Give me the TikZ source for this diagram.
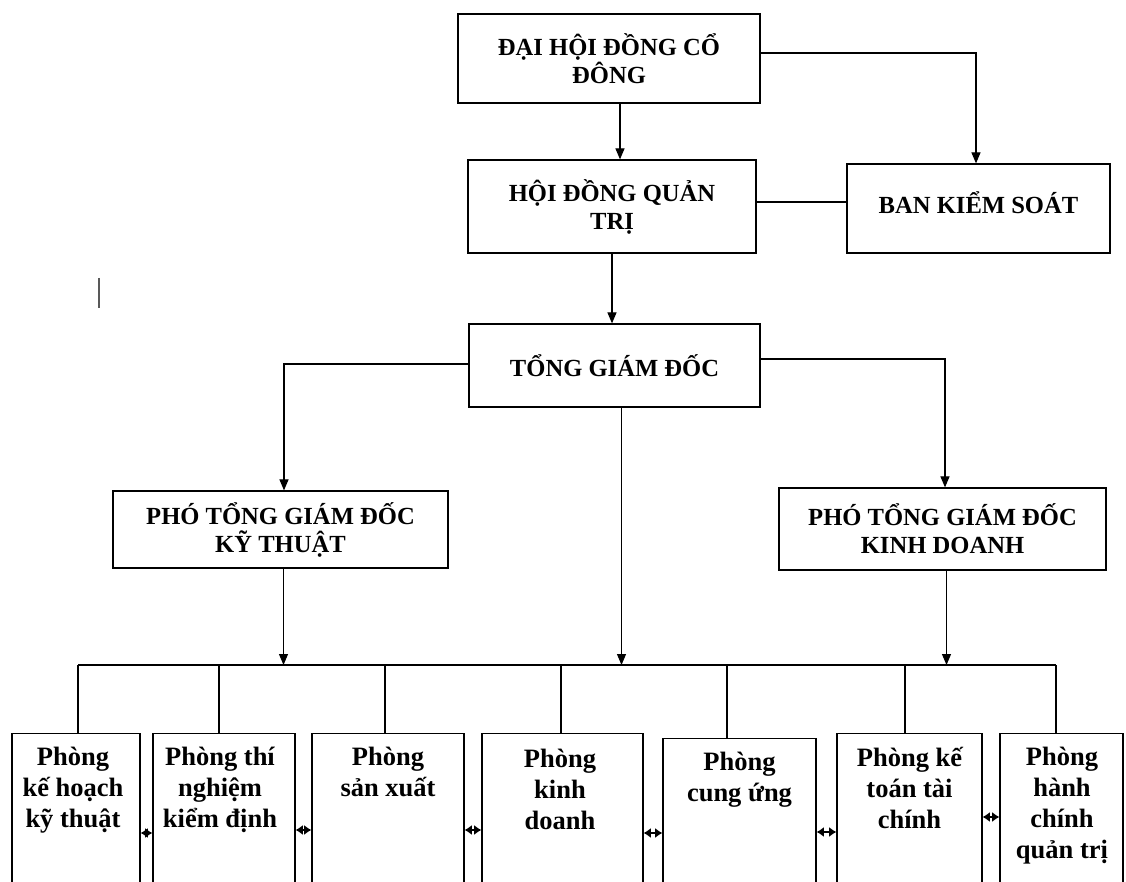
\documentclass[tikz,border=0pt]{standalone}
\usepackage{fontspec}
\setmainfont{Liberation Serif}
\usetikzlibrary{arrows.meta,calc}
\tikzset{
  capbox/.style={draw, line width=0.6pt, inner sep=0pt, align=center,
    font=\bfseries\fontsize{12.3}{14}\selectfont},
  deptbox/.style={draw, line width=0.6pt, inner sep=0pt, anchor=north, minimum height=100pt},
  depttext/.style={inner sep=0pt, anchor=north, align=center,
    font=\bfseries\fontsize{13.25}{15.5}\selectfont},
  conn/.style={line width=0.6pt},
  arr/.style={line width=0.6pt, -{Triangle[length=5.5pt,width=4.5pt]}},
  bus/.style={line width=1.1pt},
  twin/.style={line width=1pt, {Latex[length=3.6pt,width=5pt]}-{Latex[length=3.6pt,width=5pt]}}
}
\begin{document}
\begin{tikzpicture}[x=0.5pt,y=-0.5pt]
\useasboundingbox (0,0) rectangle (1126,882);
\clip (0,0) rectangle (1126,882);
\fill[white] (0,0) rectangle (1126,882);

% upper levels
\node[capbox, minimum width=151pt, minimum height=44.5pt] (dh) at (609,58.5) {ĐẠI HỘI ĐỒNG CỔ\\ĐÔNG};
\node[capbox, minimum width=144pt, minimum height=46.5pt] (hdqt) at (612,206.5) {HỘI ĐỒNG QUẢN\\TRỊ};
\node[capbox, minimum width=131.5pt, minimum height=44.5pt, text depth=6pt] (bks) at (978.5,208.5) {BAN KIỂM SOÁT};
\node[capbox, minimum width=145.5pt, minimum height=41.5pt] (tgd) at (614.5,365.5) {TỔNG GIÁM ĐỐC};
\node[capbox, minimum width=167.5pt, minimum height=38.5pt] (ptkt) at (280.5,529.5) {PHÓ TỔNG GIÁM ĐỐC\\KỸ THUẬT};
\node[capbox, minimum width=163.5pt, minimum height=41pt] (ptkd) at (942.5,529) {PHÓ TỔNG GIÁM ĐỐC\\KINH DOANH};

% stray tick mark
\draw[line width=1pt, gray!70!black] (99,278) -- (99,308);

% upper connectors
\draw[arr] ([xshift=5.5pt]dh.south) -- ([xshift=5.5pt]dh.south |- hdqt.north);
\draw[arr] ([yshift=2.75pt]dh.east) -| ([xshift=-1.25pt]bks.north);
\draw[conn] ([yshift=2.25pt]hdqt.east) -- ([yshift=2.25pt]hdqt.east -| bks.west);
\draw[arr] (hdqt.south) -- (hdqt.south |- tgd.north);
\draw[arr] ([yshift=0.75pt]tgd.west) -| ([xshift=1.75pt]ptkt.north);
\draw[arr] ([yshift=3.25pt]tgd.east) -| ([xshift=1.25pt]ptkd.north);

% bus
\coordinate (d1) at (78,665);
\coordinate (d2) at (219,665);
\coordinate (d3) at (385,665);
\coordinate (d4) at (561,665);
\coordinate (d5) at (727,665);
\coordinate (d6) at (905,665);
\coordinate (d7) at (1056,665);
\draw[bus] (d1) -- (d7);
\draw[arr] ([xshift=1.5pt]ptkt.south) -- ([xshift=1.5pt]ptkt.south |- d1);
\draw[arr] ([xshift=3.5pt]tgd.south) -- ([xshift=3.5pt]tgd.south |- d1);
\draw[arr] ([xshift=2pt]ptkd.south) -- ([xshift=2pt]ptkd.south |- d1);

% departments
\node[deptbox, minimum width=64pt] (b1) at (76,733) {};
\node[deptbox, minimum width=71pt] (b2) at (224,733) {};
\node[deptbox, minimum width=76pt] (b3) at (388,733) {};
\node[deptbox, minimum width=80.5pt] (b4) at (562.5,733) {};
\node[deptbox, minimum width=76.5pt] (b5) at (739.5,738) {};
\node[deptbox, minimum width=72.5pt] (b6) at (909.5,733) {};
\node[deptbox, minimum width=61.5pt] (b7) at (1061.5,733) {};

\node[depttext] (t1) at (73,747) {Phòng\\kế hoạch\\kỹ thuật};
\node[depttext] (t2) at (220,747) {Phòng thí\\nghiệm\\kiểm định};
\node[depttext] (t3) at (388,747) {Phòng\\sản xuất};
\node[depttext] (t4) at (560,749) {Phòng\\kinh\\doanh};
\node[depttext] (t5) at (739.5,752) {Phòng\\cung ứng};
\node[depttext] (t6) at (909.5,747) {Phòng kế\\toán tài\\chính};
\node[depttext] (t7) at (1062,747) {Phòng\\hành\\chính\\quản trị};

\foreach \i in {1,...,7} {
  \draw[conn] (d\i) -- (d\i |- b\i.north);
}

% side links between departments
\draw[twin] ([yshift=-50pt]b1.north east) -- ([yshift=-50pt]b1.north east -| b2.west);
\draw[twin] ([yshift=-48.5pt]b2.north east) -- ([yshift=-48.5pt]b2.north east -| b3.west);
\draw[twin] ([yshift=-48.5pt]b3.north east) -- ([yshift=-48.5pt]b3.north east -| b4.west);
\draw[twin] ([yshift=-50pt]b4.north east) -- ([yshift=-50pt]b4.north east -| b5.west);
\draw[twin] ([yshift=-47pt]b5.north east) -- ([yshift=-47pt]b5.north east -| b6.west);
\draw[twin] ([yshift=-42pt]b6.north east) -- ([yshift=-42pt]b6.north east -| b7.west);
\end{tikzpicture}
\end{document}
